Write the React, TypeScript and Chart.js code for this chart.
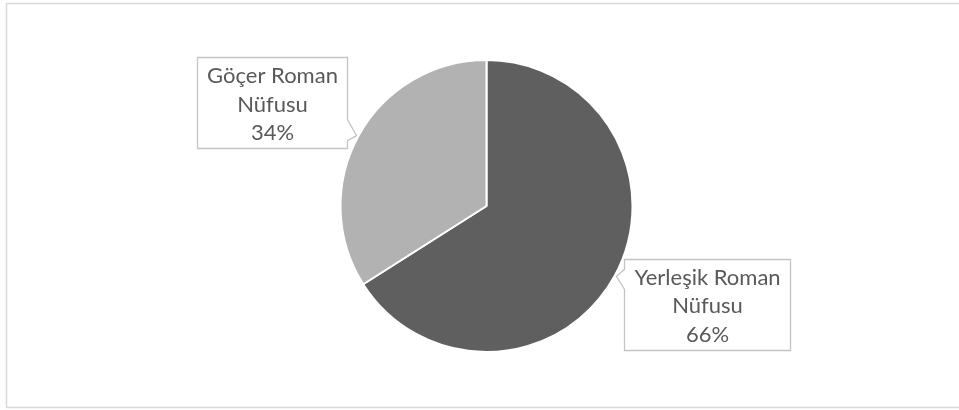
import React, { useEffect, useRef } from "react";
import { Chart, registerables } from "chart.js";

Chart.register(...registerables);

const categories = ["Yerleşik Roman Nüfusu", "Göçer Roman Nüfusu"];
const labelLines = [
  ["Yerleşik Roman", "Nüfusu"],
  ["Göçer Roman", "Nüfusu"],
];
const values = [66, 34];
const sliceColors = ["#5f5f5f", "#b2b2b2"];

// callout styling: which side of the tip the box sits, gap, vertical shift, pointer spread
const calloutStyles = [
  { side: "right", gap: 10, dy: 28, up: 7, down: 13 },
  { side: "left", gap: 12, dy: -33, up: 16, down: 5 },
];

const FONT = "22px Lato, 'Liberation Sans', sans-serif";
const LINE_H = 28.5;
const PAD_X = 9.5;
const PAD_Y = 3;

const calloutPlugin = {
  id: "callouts",
  beforeDraw(chart: any) {
    const ctx = chart.ctx;
    ctx.save();
    ctx.strokeStyle = "#d9d9d9";
    ctx.lineWidth = 1.5;
    ctx.strokeRect(6.5, 3.5, chart.width + 10, 404);
    ctx.restore();
  },
  afterDatasetsDraw(chart: any) {
    const ctx = chart.ctx;
    const meta = chart.getDatasetMeta(0);
    const data = chart.data.datasets[0].data as number[];
    const total = data.reduce((a, b) => a + b, 0);
    ctx.save();
    ctx.font = FONT;
    meta.data.forEach((arc: any, i: number) => {
      const p = arc.getProps(["x", "y", "startAngle", "endAngle", "outerRadius"], true);
      const mid = (p.startAngle + p.endAngle) / 2;
      const tx = p.x + Math.cos(mid) * p.outerRadius;
      const ty = p.y + Math.sin(mid) * p.outerRadius;
      const st = calloutStyles[i];
      const lines = [...labelLines[i], Math.round((data[i] / total) * 100) + "%"];
      const w = Math.max(...lines.map((l) => ctx.measureText(l).width)) + PAD_X * 2;
      const h = lines.length * LINE_H + PAD_Y * 2;
      let L: number, R: number;
      if (st.side === "right") {
        L = tx + st.gap;
        R = L + w;
      } else {
        R = tx - st.gap;
        L = R - w;
      }
      const T = ty + st.dy - h / 2;
      const B = T + h;
      L = Math.round(L) + 0.5;
      R = Math.round(R) + 0.5;
      const Tr = Math.round(T) + 0.5;
      const Br = Math.round(B) + 0.5;
      ctx.beginPath();
      if (st.side === "right") {
        ctx.moveTo(L, Tr);
        ctx.lineTo(R, Tr);
        ctx.lineTo(R, Br);
        ctx.lineTo(L, Br);
        ctx.lineTo(L, ty + st.down);
        ctx.lineTo(tx + 2, ty);
        ctx.lineTo(L, ty - st.up);
        ctx.closePath();
      } else {
        ctx.moveTo(L, Tr);
        ctx.lineTo(R, Tr);
        ctx.lineTo(R, ty - st.up);
        ctx.lineTo(tx - 2, ty);
        ctx.lineTo(R, ty + st.down);
        ctx.lineTo(R, Br);
        ctx.lineTo(L, Br);
        ctx.closePath();
      }
      ctx.fillStyle = "#ffffff";
      ctx.fill();
      ctx.strokeStyle = "#c4c4c4";
      ctx.lineWidth = 1.3;
      ctx.stroke();
      ctx.fillStyle = "#595959";
      ctx.textAlign = "center";
      ctx.textBaseline = "middle";
      const cx = (L + R) / 2;
      lines.forEach((l, k) => {
        ctx.fillText(l, cx, T + PAD_Y + LINE_H * (k + 0.5) + 2);
      });
    });
    ctx.restore();
  },
};

export default function App() {
  const ref = useRef<HTMLCanvasElement | null>(null);
  useEffect(() => {
    if (!ref.current) return;
    const chart = new Chart(ref.current, {
      type: "pie",
      data: {
        labels: categories,
        datasets: [
          {
            data: values,
            backgroundColor: sliceColors,
            borderColor: "#ffffff",
            borderWidth: 2,
          },
        ],
      },
      options: {
        responsive: false,
        animation: false,
        layout: { padding: { left: 339, right: 325, top: 59, bottom: 57 } },
        plugins: {
          legend: { display: false },
          tooltip: { enabled: false },
        },
      },
      plugins: [calloutPlugin],
    });
    return () => chart.destroy();
  }, []);
  return (
    <div style={{ position: "fixed", left: 0, top: 0, width: 959, height: 410, background: "#fff" }}>
      <canvas ref={ref} width={959} height={410} style={{ display: "block" }} />
    </div>
  );
}
